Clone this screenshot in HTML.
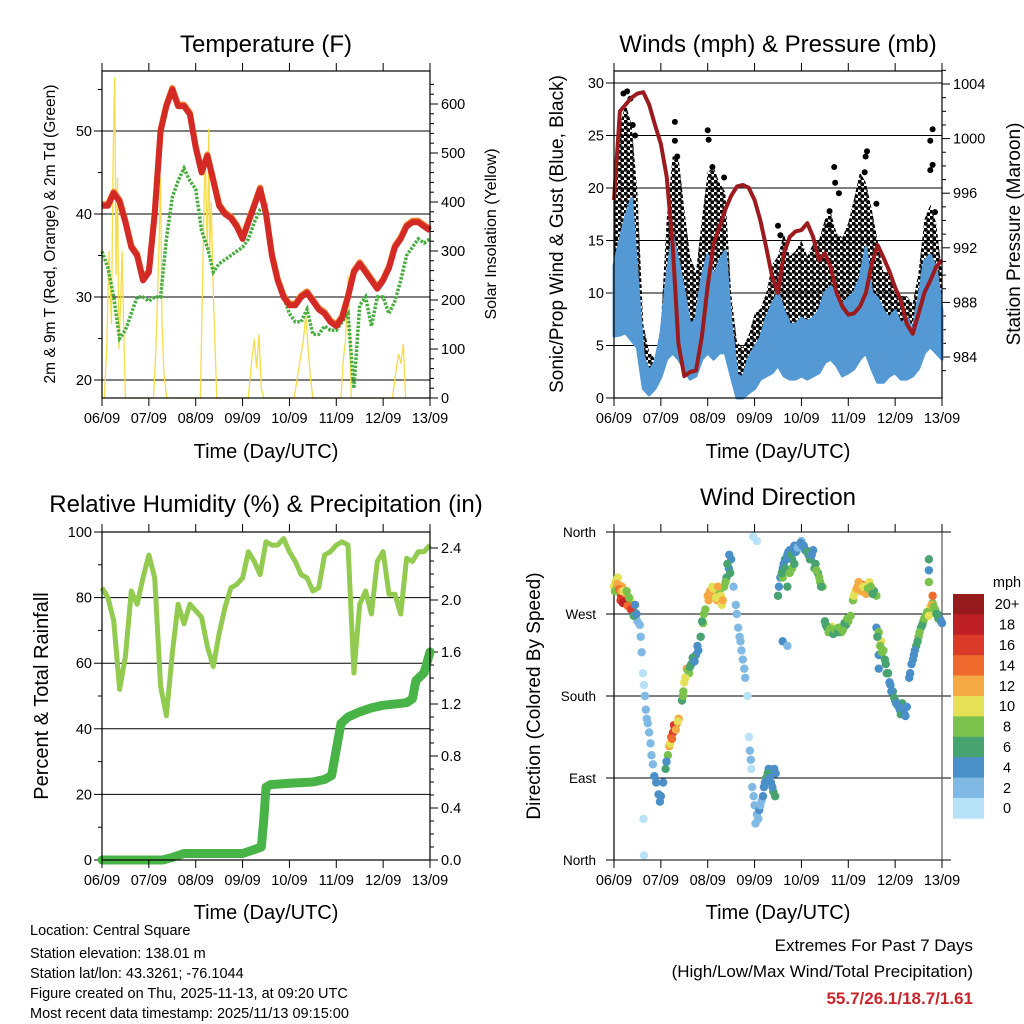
<!DOCTYPE html>
<html><head><meta charset="utf-8"><style>
html,body{margin:0;padding:0;background:#fff;}
svg{display:block;font-family:"Liberation Sans",Arial,sans-serif;}
</style></head><body>
<svg id="root" width="1024" height="1024" viewBox="0 0 1024 1024">
<defs>
<pattern id="dotpat" width="6" height="6" patternUnits="userSpaceOnUse">
<circle cx="1.5" cy="1.5" r="2.2" fill="#000"/>
<circle cx="4.5" cy="4.5" r="2.2" fill="#000"/>
</pattern>
</defs>
<rect x="0" y="0" width="1024" height="1024" fill="#fff"/>
<g id="p1"></g>
<g id="p2"></g>
<g id="p3"></g>
<g id="p4"></g>
<text x="266" y="52" font-size="24" text-anchor="middle">Temperature (F)</text>
<text x="778" y="52" font-size="24" text-anchor="middle">Winds (mph) &amp; Pressure (mb)</text>
<text x="266" y="512" font-size="24" text-anchor="middle">Relative Humidity (%) &amp; Precipitation (in)</text>
<text x="778" y="505" font-size="24" text-anchor="middle">Wind Direction</text>
<text x="266" y="458" font-size="20" text-anchor="middle">Time (Day/UTC)</text>
<text x="778" y="458" font-size="20" text-anchor="middle">Time (Day/UTC)</text>
<text x="266" y="919" font-size="20" text-anchor="middle">Time (Day/UTC)</text>
<text x="778" y="919" font-size="20" text-anchor="middle">Time (Day/UTC)</text>
<text transform="translate(55,234) rotate(-90)" font-size="15.5" text-anchor="middle">2m &amp; 9m T (Red, Orange) &amp; 2m Td (Green)</text>
<text transform="translate(496,234) rotate(-90)" font-size="16" text-anchor="middle">Solar Insolation (Yellow)</text>
<text transform="translate(563,234) rotate(-90)" font-size="19" text-anchor="middle">Sonic/Prop Wind &amp; Gust (Blue, Black)</text>
<text transform="translate(1020,234) rotate(-90)" font-size="19" text-anchor="middle">Station Pressure (Maroon)</text>
<text transform="translate(48,696) rotate(-90)" font-size="20" text-anchor="middle">Percent &amp; Total Rainfall</text>
<text transform="translate(540,696) rotate(-90)" font-size="19" text-anchor="middle">Direction (Colored By Speed)</text>
<g font-size="14.5">
<text x="30" y="935">Location: Central Square</text>
<text x="30" y="958">Station elevation: 138.01 m</text>
<text x="30" y="978">Station lat/lon: 43.3261; -76.1044</text>
<text x="30" y="998">Figure created on Thu, 2025-11-13, at 09:20 UTC</text>
<text x="30" y="1018">Most recent data timestamp: 2025/11/13 09:15:00</text>
</g>
<text x="973" y="951" font-size="17" text-anchor="end">Extremes For Past 7 Days</text>
<text x="973" y="977" font-size="17" text-anchor="end">(High/Low/Max Wind/Total Precipitation)</text>
<text x="973" y="1004" font-size="17" font-weight="bold" fill="#c8262b" text-anchor="end">55.7/26.1/18.7/1.61</text>
</svg>
<script>
// ---------- data ----------
const dayLabels = ["06/09","07/09","08/09","09/09","10/09","11/09","12/09","13/09"];
const tempF = [41,41,42.5,41.5,39,36,35,32,33,40,50,53,55,53,53,52,48,45,47,44,41,40,39.5,38.5,37,39,41,43,40,35,32,30,29,29,30,30.5,29.5,28.5,28,27,26.5,27.5,30,33,34,33,32,31,32,33.5,36,37,38.5,39,39,38.5,38];
const dewF = [35.5,33.5,30,25,26,28,30,30,29.5,30,30,37,42,44,45.5,44,43,38,36,33,34,34.5,35,35.5,36,37,39,40.5,41,35,32,30,28,27,27,28.5,25.5,25.5,26.5,26,26,27,28,19,29,30,26.5,30,30,28,29.5,32,35,36,37,36.5,37];
const solarT = [0.05,0.1,0.15,0.2,0.24,0.27,0.3,0.33,0.36,0.4,0.43,0.46,0.5,1.1,1.15,1.2,1.25,1.28,1.32,1.38,2.1,2.15,2.2,2.25,2.28,2.3,2.33,2.38,2.45,3.12,3.2,3.25,3.3,3.35,3.4,3.45,4.1,4.2,4.3,4.35,4.4,4.45,4.5,5.1,5.15,5.2,5.25,5.28,5.32,6.2,6.28,6.33,6.38,6.43,6.48];
const solarV = [0,100,300,150,500,655,250,450,100,200,300,150,0,0,100,250,450,150,50,0,0,250,500,300,550,300,400,200,0,0,80,120,60,130,20,0,0,60,120,170,100,40,0,0,80,120,250,150,0,0,60,90,70,110,0];
const pressureMb = [995.5,1002,1002.5,1003,1003.3,1003.4,1002.5,1001,999.6,997.2,992.3,985,982.6,982.9,983,985.5,989.2,992.3,993.5,994.8,995.8,996.5,996.6,996.4,995.5,994,992,989.9,988.7,991.6,992.8,993.2,993.3,993.8,992.8,991.1,991.6,990.6,988.7,987.7,987.1,987.2,987.7,988.7,990.8,992.2,991.3,990.3,989.1,988.1,986.4,985.7,987.2,988.7,989.6,990.6,991.1];
const gustMph = [21.5,26,28,26,19.6,7,4.4,3.7,6.9,17,23,23,18,13.5,12,17,21.5,22,20.5,19.6,10,5.3,4.8,6,8,8.5,10,12.7,13.5,15.7,13.5,14,15,13.5,14.7,15,17,17.7,15.7,15.3,16.7,19,21.5,20.5,18,15,12,12,10.5,9.7,9.7,9,12,17,18.4,16.7,12];
const windMaxMph = [12.6,15,17.3,19,11.4,4,2.5,3.4,6,11.4,15.5,13,10,6.9,7.5,11.4,13.6,11.4,13,14,7,2.2,1.9,3.8,4.8,5.7,7.6,8.9,10,8.3,7,7,7.6,7.3,7.6,8.3,10,10.6,10,8.9,9.5,10,11.4,14.3,10,9.5,8.3,7.6,8.3,7,7.6,6.3,9.5,13,13.6,12.4,8.3];
const windMinMph = [5.9,6,6.2,5.5,4.8,0.9,0.3,0.9,2,3.7,4.3,3.7,2.8,1.8,2.1,3.7,4.3,3.7,4.3,4.3,2.1,0,0,0.5,0.9,1.8,2.1,2.4,3.1,2.1,1.8,1.8,2.1,1.8,2.1,2.4,3.4,3.7,3.1,2.1,2.4,2.8,3.7,4.3,2.8,1.5,1.5,2.1,2.4,1.8,1.8,2.1,2.8,4.3,4.9,4.3,3.7];
const gustDotT = [0.2,0.28,0.35,1.3,1.3,1.35,2.0,2.02,2.1,2.35,3.5,3.55,4.6,4.6,4.7,4.72,4.8,5.35,5.37,5.4,5.6,6.75,6.8,6.75,6.8,6.85,0.4,0.45];
const gustDotV = [29,29.2,28.5,26.3,24.5,23,25.5,24.6,22,21,16.4,15.5,17.8,16.5,22,20.5,19.5,21.5,23,23.5,18.5,24.5,25.6,21.7,22.2,17.7,26,25];
const rhPct = [83,80,73,52,62,82,78,86,93,86,53,44,63,78,72,78,76,74,65,59,69,77,83,84,86,94,91,87,97,96,96,98,94,91,87,86,82,83,93,94,96,97,96,57,78,82,75,91,94,81,81,75,92,91,94,94,96];
const precT = [0,1.3,1.5,1.75,3.0,3.25,3.4,3.45,3.5,3.6,4.0,4.5,4.75,4.9,5.0,5.1,5.25,5.5,5.75,6.0,6.5,6.625,6.7,6.875,7.0];
const precIn = [0,0,0.02,0.05,0.05,0.08,0.1,0.3,0.56,0.58,0.59,0.6,0.62,0.65,0.85,1.05,1.1,1.14,1.17,1.19,1.21,1.24,1.38,1.44,1.6];
const dirT = [0,0.03,0.06,0.08,0.1,0.12,0.15,0.17,0.18,0.2,0.22,0.25,0.28,0.3,0.33,0.35,0.38,0.4,0.43,0.46,0.5,
 0.55,0.57,0.59,0.62,0.64,0.66,0.68,0.7,0.72,0.75,0.78,0.8,0.83,0.86,0.9,0.95,0.98,0.63,0.64,
 1.0,1.05,1.1,1.15,1.18,1.22,1.26,1.3,1.34,1.38,
 1.45,1.48,1.5,1.55,1.6,1.65,1.7,1.75,1.8,1.85,1.9,1.95,
 2.0,2.05,2.1,2.15,2.2,2.25,2.3,2.35,2.4,2.45,2.5,2.48,
 2.55,2.6,2.65,2.7,2.75,2.8,2.85,2.88,2.9,2.93,2.95,3.0,3.02,3.05,3.1,3.15,3.2,3.25,3.3,3.35,3.4,3.45,2.97,3.05,
 3.5,3.55,3.6,3.65,3.7,3.75,3.8,3.85,3.9,3.95,4.0,4.05,4.1,4.15,4.2,4.25,4.3,4.35,4.4,4.45,3.6,3.7,3.8,3.6,3.7,
 4.5,4.55,4.6,4.65,4.7,4.75,4.8,4.85,4.9,4.95,5.0,5.05,
 5.1,5.15,5.2,5.25,5.3,5.35,5.4,5.45,5.5,5.55,5.6,
 5.6,5.65,5.7,5.75,5.8,5.85,5.9,5.95,6.0,6.05,6.1,6.15,6.2,6.25,5.65,5.65,
 6.3,6.35,6.4,6.45,6.5,6.55,6.6,6.65,6.7,6.75,6.8,6.85,6.9,6.95,7.0,6.72,6.72,6.72,6.8];
const dirDeg = [300,305,298,310,302,295,290,300,293,287,285,292,288,282,280,285,280,276,272,268,262,
 258,245,228,205,192,180,165,155,150,140,128,115,105,92,85,72,64,45,5,
 70,85,100,115,125,135,140,145,150,155,
 175,185,195,210,205,215,220,225,230,245,260,275,
 290,295,300,290,285,295,280,300,310,320,330,315,
 300,280,255,240,220,200,180,135,120,100,80,60,40,50,55,65,80,90,100,85,75,95,355,350,
 290,310,320,330,335,340,330,345,340,345,350,345,340,335,330,340,325,315,305,300,310,300,320,240,235,
 262,255,252,256,250,252,255,250,255,258,262,268,
 285,295,300,298,302,296,300,305,298,295,290,
 255,250,240,230,215,205,192,185,175,170,165,172,160,168,225,210,
 200,215,225,235,245,255,262,268,272,278,282,275,270,265,260,330,318,305,290];
const dirSpd = [10,11,9,10,12,14,16,12,18,19,17,15,13,16,18,10,8,7,6,5,3,
 3,2,2,1,1,2,2,2,3,2,3,2,3,4,4,4,5,0,1,
 5,4,6,8,12,14,16,17,14,12,
 6,8,10,12,9,7,8,5,4,6,8,9,
 12,13,11,10,12,9,11,8,6,5,4,6,
 3,3,2,2,2,2,1,1,2,1,2,2,3,2,4,3,4,6,4,5,6,4,0,1,
 6,5,4,6,4,5,7,4,3,4,3,4,6,5,5,4,6,7,9,8,8,6,9,4,3,
 7,6,8,10,7,8,6,9,8,7,8,9,
 9,11,12,13,14,12,11,10,8,6,8,
 4,8,10,8,6,6,4,6,5,6,4,6,4,5,4,5,
 4,4,5,6,8,7,8,9,10,11,9,8,7,5,4,6,4,8,14];
const dirExtraT = [0.02,0.07,0.11,0.14,0.16,0.19,0.21,0.24,0.27,0.29,0.32,0.36,0.42,0.45,0.48,
 1.12,1.2,1.24,1.28,1.32,1.36,
 1.47,1.52,1.58,1.62,1.68,1.72,1.78,1.88,1.92,
 2.02,2.08,2.12,2.18,2.22,2.28,2.32,2.38,2.42,2.46,
 2.62,2.68,2.72,2.78,2.92,2.98,3.08,3.12,3.18,3.22,3.28,3.32,3.38,3.42,3.44,
 3.52,3.58,3.62,3.68,3.72,3.78,3.82,3.88,3.92,3.98,4.02,4.08,4.12,4.18,4.22,4.28,4.32,4.38,4.42,3.65,3.75,3.85,
 4.52,4.58,4.62,4.68,4.72,4.78,4.82,4.88,4.92,4.98,
 5.12,5.18,5.22,5.28,5.32,5.38,5.42,5.48,5.52,
 5.62,5.68,5.72,5.78,5.82,5.88,5.92,5.98,6.02,6.08,6.12,6.18,6.22,
 6.32,6.38,6.42,6.48,6.52,6.58,6.62,6.68,6.72,6.78,6.82,6.88,6.92,6.98];
const dirExtraDeg = [295,303,297,285,295,282,295,284,295,279,288,275,268,280,270,
 108,128,133,148,143,152,
 180,200,208,212,222,218,235,262,270,
 285,292,298,288,300,290,285,305,325,335,
 270,245,230,210,110,70,45,60,70,85,95,90,80,100,70,
 300,315,325,330,338,335,342,338,343,348,345,340,338,330,335,320,318,310,300,320,315,325,
 258,250,254,248,253,250,255,252,260,265,
 290,298,305,295,300,292,298,300,292,
 245,235,228,220,205,195,185,178,172,168,160,165,158,
 205,220,230,240,250,258,265,272,268,280,278,270,265,262];
const dirExtraSpd = [9,12,15,17,13,18,11,19,9,14,8,17,6,5,4,
 4,10,15,16,13,11,
 8,11,8,6,6,4,4,6,9,
 13,12,10,11,12,10,13,9,6,5,
 2,3,2,2,2,2,2,3,4,5,6,5,4,5,6,
 4,6,5,4,5,6,4,5,3,4,4,5,6,6,4,7,8,9,6,7,8,6,
 6,8,9,7,8,6,8,9,7,8,
 10,12,13,12,10,13,9,8,7,
 6,9,8,7,6,5,5,6,4,5,6,4,4,
 4,4,5,7,8,7,9,8,10,12,9,7,6,4];
const speedColors = ["#b7e2f7","#80b9e3","#4a8fc7","#47a36f","#7ac24b","#e5e157","#f5a943","#ef6a2c","#db3a2a","#bf1f26","#971b1d"];
const speedLabels = ["0","2","4","6","8","10","12","14","16","18","20+"];
const tempTicks = [20,30,40,50];
const solarTicks = [0,100,200,300,400,500,600];
const windTicks = [0,5,10,15,20,25,30];
const presTicks = [984,988,992,996,1000,1004];
const rhTicks = [0,20,40,60,80,100];
const precTicks = [0.0,0.4,0.8,1.2,1.6,2.0,2.4];
const dirTicks = [0,90,180,270,360];
const dirTickLabels = ["North","East","South","West","North"];

// ---------- helpers ----------
const NS = "http://www.w3.org/2000/svg";
function mk(parent, tag, attrs, name) {
  const el = document.createElementNS(NS, tag);
  for (const k in attrs) el.setAttribute(k, attrs[k]);
  
  
  parent.appendChild(el);
  return el;
}
function txt(parent, x, y, s, size, anchor, name) {
  const el = mk(parent, 'text', {x: x, y: y, 'font-size': size, 'text-anchor': anchor}, name);
  el.textContent = s;
  return el;
}
function pathD(xs, ys) {
  return xs.map((x, i) => (i ? 'L' : 'M') + x.toFixed(1) + ',' + ys[i].toFixed(1)).join('');
}
const DAY = 46.857;
function idxT(i) { return i * 0.125; }
function timeAxis(g, x0, top, bot, prefix) {
  for (let d = 0; d < dayLabels.length; d++) {
    const x = x0 + d * DAY;
    mk(g, 'line', {x1: x, y1: bot, x2: x, y2: bot + 8, stroke: '#000', 'stroke-width': 1}, prefix + '-x-tick');
    mk(g, 'line', {x1: x, y1: top, x2: x, y2: top - 8, stroke: '#000', 'stroke-width': 1}, prefix + '-x-tick-top');
    txt(g, x, bot + 25, dayLabels[d], 14.5, 'middle', prefix + '-x-tick-label');
  }
}
function frame(g, x0, y0, x1, y1, name) {
  mk(g, 'rect', {x: x0, y: y0, width: x1 - x0, height: y1 - y0, fill: 'none', stroke: '#000', 'stroke-width': 1.2}, name);
}

// ---------- Panel 1: temperature ----------
(function () {
  const g = document.getElementById('p1');
  const X0 = 102, X1 = 430, T = 71, B = 398;
  const xs = t => X0 + t * DAY;
  const yT = v => 380 - (v - 20) * 8.3;
  const yS = v => 398 - v * 0.49;
  tempTicks.forEach(v => {
    mk(g, 'line', {x1: X0, y1: yT(v), x2: X1, y2: yT(v), stroke: '#000', 'stroke-width': 1}, 'temp-gridline');
    mk(g, 'line', {x1: X0 - 8, y1: yT(v), x2: X0, y2: yT(v), stroke: '#000'}, 'temp-y-tick');
    txt(g, X0 - 10, yT(v) + 5, String(v), 14.5, 'end', 'temp-y-tick-label');
  });
  for (let v = 20; v <= 55; v += 5) if (v % 10) mk(g, 'line', {x1: X0 - 4, y1: yT(v), x2: X0, y2: yT(v), stroke: '#000'}, 'temp-y-minor-tick');
  solarTicks.forEach(v => {
    mk(g, 'line', {x1: X1, y1: yS(v), x2: X1 + 8, y2: yS(v), stroke: '#000'}, 'solar-y-tick');
    txt(g, X1 + 11, yS(v) + 5, String(v), 14.5, 'start', 'solar-y-tick-label');
  });
  for (let v = 20; v <= 640; v += 20) if (v % 100) mk(g, 'line', {x1: X1, y1: yS(v), x2: X1 + 4, y2: yS(v), stroke: '#000'}, 'solar-y-minor-tick');
  mk(g, 'path', {d: pathD(solarT.map(xs), solarV.map(yS)), fill: 'none', stroke: '#f5dc4a', 'stroke-width': 1.3}, 'solar-line');
  const tx = tempF.map((v, i) => xs(idxT(i)));
  mk(g, 'path', {d: pathD(tx, dewF.map(yT)), fill: 'none', stroke: '#46ad3e', 'stroke-width': 3.5, 'stroke-dasharray': '2.5 1.5'}, 'dewpoint-line');
  mk(g, 'path', {d: pathD(tx, tempF.map(v => yT(v) - 1.5)), fill: 'none', stroke: '#f07d2e', 'stroke-width': 6, 'stroke-linejoin': 'round'}, 'temp-9m-line');
  mk(g, 'path', {d: pathD(tx, tempF.map(yT)), fill: 'none', stroke: '#d42a26', 'stroke-width': 6, 'stroke-linejoin': 'round'}, 'temp-2m-line');
  frame(g, X0, T, X1, B, 'temp-plot-frame');
  timeAxis(g, X0, T, B, 'temp');
})();

// ---------- Panel 2: winds ----------
(function () {
  const g = document.getElementById('p2');
  const X0 = 614, X1 = 942, T = 71, B = 398;
  const xs = t => X0 + t * DAY;
  const yW = v => 398 - v * 10.5;
  const yP = p => 357 - (p - 984) * 13.65;
  windTicks.forEach(v => {
    if (v > 0) mk(g, 'line', {x1: X0, y1: yW(v), x2: X1, y2: yW(v), stroke: '#000', 'stroke-width': 1}, 'wind-gridline');
    mk(g, 'line', {x1: X0 - 8, y1: yW(v), x2: X0, y2: yW(v), stroke: '#000'}, 'wind-y-tick');
    txt(g, X0 - 10, yW(v) + 5, String(v), 14.5, 'end', 'wind-y-tick-label');
  });
  presTicks.forEach(v => {
    mk(g, 'line', {x1: X1, y1: yP(v), x2: X1 + 8, y2: yP(v), stroke: '#000'}, 'pressure-y-tick');
    txt(g, X1 + 11, yP(v) + 5, String(v), 14.5, 'start', 'pressure-y-tick-label');
  });
  for (let v = 983; v <= 1005; v += 1) if (v % 4) mk(g, 'line', {x1: X1, y1: yP(v), x2: X1 + 4, y2: yP(v), stroke: '#000'}, 'pressure-y-minor-tick');
  const tx = gustMph.map((v, i) => xs(idxT(i)));
  const gustPoly = pathD(tx, gustMph.map(yW)) + tx.slice().reverse().map((x, j) => 'L' + x.toFixed(1) + ',' + yW(windMinMph[windMinMph.length - 1 - j]).toFixed(1)).join('') + 'Z';
  mk(g, 'path', {d: gustPoly, fill: 'url(#dotpat)', stroke: 'none'}, 'gust-band');
  gustDotT.forEach((t, i) => {
    mk(g, 'circle', {cx: xs(t), cy: yW(gustDotV[i]), r: 3, fill: '#000'}, 'gust-dot');
  });
  const windPoly = pathD(tx, windMaxMph.map(yW)) + tx.slice().reverse().map((x, j) => 'L' + x.toFixed(1) + ',' + yW(windMinMph[windMinMph.length - 1 - j]).toFixed(1)).join('') + 'Z';
  mk(g, 'path', {d: windPoly, fill: '#5499d3', stroke: '#5499d3', 'stroke-width': 3, 'stroke-linejoin': 'round'}, 'wind-band');
  mk(g, 'path', {d: pathD(tx, pressureMb.map(yP)), fill: 'none', stroke: '#9b1b1e', 'stroke-width': 4, 'stroke-linejoin': 'round'}, 'pressure-line');
  frame(g, X0, T, X1, B, 'wind-plot-frame');
  timeAxis(g, X0, T, B, 'wind');
})();

// ---------- Panel 3: humidity & precip ----------
(function () {
  const g = document.getElementById('p3');
  const X0 = 102, X1 = 430, T = 532, B = 860;
  const xs = t => X0 + t * DAY;
  const yR = v => 860 - v * 3.28;
  const yPr = v => 860 - v * 130;
  rhTicks.forEach(v => {
    if (v > 0 && v < 100) mk(g, 'line', {x1: X0, y1: yR(v), x2: X1, y2: yR(v), stroke: '#000', 'stroke-width': 1}, 'rh-gridline');
    mk(g, 'line', {x1: X0 - 8, y1: yR(v), x2: X0, y2: yR(v), stroke: '#000'}, 'rh-y-tick');
    txt(g, X0 - 10, yR(v) + 5, String(v), 14.5, 'end', 'rh-y-tick-label');
  });
  for (let v = 10; v < 100; v += 20) mk(g, 'line', {x1: X0 - 4, y1: yR(v), x2: X0, y2: yR(v), stroke: '#000'}, 'rh-y-minor-tick');
  precTicks.forEach(v => {
    mk(g, 'line', {x1: X1, y1: yPr(v), x2: X1 + 8, y2: yPr(v), stroke: '#000'}, 'precip-y-tick');
    txt(g, X1 + 11, yPr(v) + 5, v.toFixed(1), 14.5, 'start', 'precip-y-tick-label');
  });
  for (let v = 0.1; v < 2.5; v += 0.1) mk(g, 'line', {x1: X1, y1: yPr(v), x2: X1 + 4, y2: yPr(v), stroke: '#000'}, 'precip-y-minor-tick');
  const tx = rhPct.map((v, i) => xs(idxT(i)));
  mk(g, 'path', {d: pathD(tx, rhPct.map(yR)), fill: 'none', stroke: '#92cb50', 'stroke-width': 5, 'stroke-linejoin': 'round'}, 'rh-line');
  mk(g, 'path', {d: pathD(precT.map(xs), precIn.map(yPr)), fill: 'none', stroke: '#48b347', 'stroke-width': 9, 'stroke-linejoin': 'round', 'stroke-linecap': 'round'}, 'precip-line');
  frame(g, X0, T, X1, B, 'rh-plot-frame');
  timeAxis(g, X0, T, B, 'rh');
})();

// ---------- Panel 4: wind direction ----------
(function () {
  const g = document.getElementById('p4');
  const X0 = 614, X1 = 942, T = 532, B = 860;
  const xs = t => X0 + t * DAY;
  const yD = d => 860 - d * 328 / 360;
  dirTicks.forEach((v, i) => {
    mk(g, 'line', {x1: X0 - 8, y1: yD(v), x2: 951, y2: yD(v), stroke: '#000', 'stroke-width': 1}, 'direction-gridline');
    txt(g, X0 - 18, yD(v) + 5, dirTickLabels[i], 13.5, 'end', 'direction-y-tick-label');
  });
  mk(g, 'line', {x1: X0, y1: T, x2: X0, y2: B, stroke: '#000', 'stroke-width': 1.2}, 'direction-left-axis');
  mk(g, 'line', {x1: X1, y1: T, x2: X1, y2: B, stroke: '#555', 'stroke-width': 1.2}, 'direction-right-axis');
  const allT = dirT.concat(dirExtraT);
  const allD = dirDeg.concat(dirExtraDeg);
  const allS = dirSpd.concat(dirExtraSpd);
  allT.forEach((t, i) => {
    const c = speedColors[Math.min(10, Math.floor(allS[i] / 2))];
    mk(g, 'circle', {cx: xs(t), cy: yD(allD[i]), r: 4.2, fill: c}, 'direction-point');
  });
  timeAxis(g, X0, T, B, 'direction');
  const cbTop = 594, h = 20.4;
  for (let k = 0; k < speedColors.length; k++) {
    const idx = speedColors.length - 1 - k;
    mk(g, 'rect', {x: 953, y: cbTop + k * h, width: 31, height: h + 0.3, fill: speedColors[idx]}, 'colorbar-box');
    txt(g, 1007, cbTop + k * h + h / 2 + 5, speedLabels[idx], 14.5, 'middle', 'colorbar-label');
  }
  txt(g, 1007, 587, 'mph', 14.5, 'middle', 'colorbar-title');
})();
</script>
</body></html>
